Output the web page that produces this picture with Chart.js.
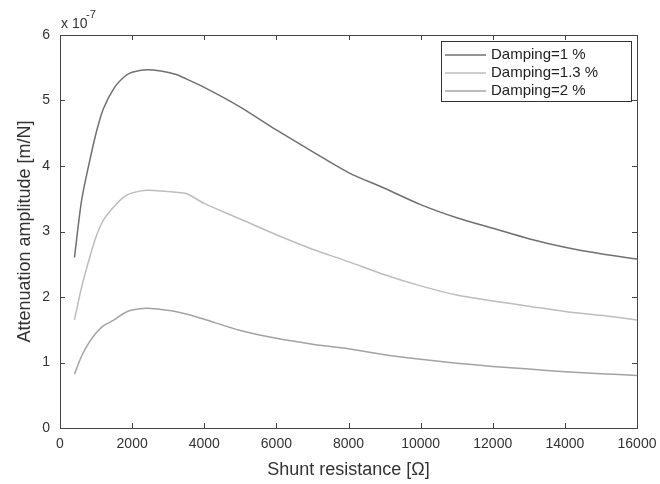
<!DOCTYPE html>
<html>
<head>
<meta charset="utf-8">
<script src="https://cdn.jsdelivr.net/npm/chart.js@4.4.0/dist/chart.umd.min.js"></script>
<style>
  html, body { margin: 0; padding: 0; background: #fff; }
  #wrap { width: 660px; height: 484px; }
</style>
</head>
<body>
<div id="wrap"><canvas id="attChart" width="660" height="484"></canvas></div>
<script>
// shunt resistance [ohm]
var resistance = [400, 600, 800, 1000, 1200, 1500, 1800, 2000, 2400, 2800, 3200, 3500, 4000,
    5000, 6000, 7000, 8000, 9000, 10000, 11000, 12000, 13000, 14000, 15000, 16000];
// attenuation amplitude, units of 1e-7 m/N
var damp1 = [2.60, 3.48, 4.02, 4.50, 4.87, 5.19, 5.37, 5.43, 5.47, 5.45, 5.40, 5.33, 5.20,
    4.90, 4.55, 4.22, 3.90, 3.66, 3.41, 3.21, 3.05, 2.89, 2.76, 2.66, 2.58];
var damp13 = [1.65, 2.15, 2.56, 2.92, 3.17, 3.38, 3.54, 3.59, 3.63, 3.62, 3.60, 3.58, 3.43,
    3.19, 2.95, 2.73, 2.54, 2.34, 2.17, 2.03, 1.94, 1.86, 1.78, 1.72, 1.65];
var damp2 = [0.82, 1.10, 1.30, 1.45, 1.56, 1.65, 1.76, 1.80, 1.83, 1.81, 1.78, 1.74, 1.66,
    1.49, 1.37, 1.28, 1.21, 1.12, 1.05, 0.99, 0.94, 0.90, 0.86, 0.83, 0.80];
var seriesNames = ['Damping=1 %', 'Damping=1.3 %', 'Damping=2 %'];
var seriesColors = ['#707070', '#bdbdbd', '#a3a3a3'];
var xTicks = [0, 2000, 4000, 6000, 8000, 10000, 12000, 14000, 16000];
var yTicks = [0, 1, 2, 3, 4, 5, 6];

var FONT = '"Liberation Sans", Arial, sans-serif';

function toPoints(ys) {
    return resistance.map(function(r, i) { return { x: r, y: ys[i] }; });
}

// white background, box frame with inward ticks, legend, exponent label
var decor = {
    id: 'decor',
    beforeDraw: function(chart) {
        var c = chart.ctx;
        c.save();
        c.fillStyle = '#ffffff';
        c.fillRect(0, 0, chart.width, chart.height);
        c.restore();
    },
    afterDraw: function(chart) {
        var c = chart.ctx, a = chart.chartArea;
        var xs = chart.scales.x, ys = chart.scales.y;
        c.save();
        c.strokeStyle = '#444';
        c.lineWidth = 1;
        c.strokeRect(Math.round(a.left) + 0.5, Math.round(a.top) + 0.5,
            Math.round(a.right - a.left), Math.round(a.bottom - a.top));
        c.beginPath();
        xTicks.forEach(function(v) {
            var px = Math.round(xs.getPixelForValue(v)) + 0.5;
            c.moveTo(px, a.bottom); c.lineTo(px, a.bottom - 5);
            c.moveTo(px, a.top); c.lineTo(px, a.top + 5);
        });
        yTicks.forEach(function(v) {
            var py = Math.round(ys.getPixelForValue(v)) + 0.5;
            c.moveTo(a.left, py); c.lineTo(a.left + 5, py);
            c.moveTo(a.right, py); c.lineTo(a.right - 5, py);
        });
        c.stroke();

        // legend
        var lx = 441, ly = 41, lw = 190, lh = 60;
        c.fillStyle = '#fff';
        c.fillRect(lx, ly, lw, lh);
        c.strokeStyle = '#333';
        c.strokeRect(lx + 0.5, ly + 0.5, lw, lh);
        c.font = '15px ' + FONT;
        c.textBaseline = 'middle';
        c.textAlign = 'left';
        for (var i = 0; i < seriesNames.length; i++) {
            var yy = ly + 14 + i * 18;
            c.strokeStyle = seriesColors[i];
            c.lineWidth = 1.5;
            c.beginPath();
            c.moveTo(445, yy); c.lineTo(486, yy);
            c.stroke();
            c.fillStyle = '#222';
            c.fillText(seriesNames[i], 491, yy);
        }

        // x 10^-7
        c.fillStyle = '#333';
        c.textBaseline = 'alphabetic';
        c.font = '14px ' + FONT;
        c.fillText('x 10', 61, 28);
        c.font = '11px ' + FONT;
        c.fillText('-7', 86, 18);
        c.restore();
    }
};

var ctx = document.getElementById('attChart').getContext('2d');
var attChart = new Chart(ctx, {
    type: 'line',
    data: {
        datasets: [damp1, damp13, damp2].map(function(d, i) {
            return {
                label: seriesNames[i],
                data: toPoints(d),
                borderColor: seriesColors[i],
                borderWidth: 1.5,
                pointRadius: 0,
                tension: 0.3,
                fill: false
            };
        })
    },
    options: {
        responsive: false,
        animation: false,
        layout: { padding: { top: 35, right: 23, left: 0, bottom: 0 } },
        plugins: {
            legend: { display: false },
            tooltip: { enabled: false }
        },
        scales: {
            x: {
                type: 'linear',
                min: 0,
                max: 16000,
                afterBuildTicks: function(s) { s.ticks = xTicks.map(function(v) { return { value: v }; }); },
                afterFit: function(s) { s.height = 56; s.paddingRight = 0; s.paddingLeft = 0; },
                grid: { display: false, drawTicks: false },
                border: { display: false },
                ticks: { padding: 8, color: '#333', font: { family: FONT, size: 14 }, maxRotation: 0,
                    callback: function(v) { return String(v); } },
                title: { display: true, text: 'Shunt resistance [Ω]', color: '#333',
                    font: { family: FONT, size: 18 }, padding: { top: 0, bottom: 3 } }
            },
            y: {
                type: 'linear',
                min: 0,
                max: 6,
                afterBuildTicks: function(s) { s.ticks = yTicks.map(function(v) { return { value: v }; }); },
                afterFit: function(s) { s.width = 60; s.paddingTop = 0; s.paddingBottom = 0; },
                grid: { display: false, drawTicks: false },
                border: { display: false },
                ticks: { padding: 10, color: '#333', font: { family: FONT, size: 14 } },
                title: { display: true, text: 'Attenuation amplitude [m/N]', color: '#333',
                    font: { family: FONT, size: 18 }, padding: { top: 14, bottom: 0 } }
            }
        }
    },
    plugins: [decor]
});
</script>
</body>
</html>
